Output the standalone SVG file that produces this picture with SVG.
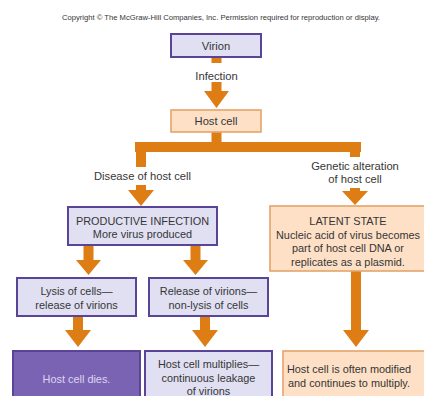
<svg xmlns="http://www.w3.org/2000/svg" width="424" height="396" viewBox="0 0 424 396">
<style>
text{font-family:"Liberation Sans",Arial,sans-serif;fill:#363636;text-anchor:middle}
.t{font-size:11.2px}
.s{font-size:10.9px}
.pb{fill:#e0e0f2;stroke:#5a4496;stroke-width:2}
.ob{fill:#fde0c6;stroke:#e5a469;stroke-width:1.6}
.dk{fill:#7b63b3;stroke:#5a4496;stroke-width:2}
.ar{fill:#de7d14}
</style>
<rect width="424" height="396" fill="#ffffff"/>
<text x="221" y="19.5" font-size="6.8" textLength="318" lengthAdjust="spacingAndGlyphs" fill="#333">Copyright © The McGraw-Hill Companies, Inc. Permission required for reproduction or display.</text>
<g id="connectors" class="ar">
<rect x="211.5" y="57" width="10" height="6"/>
<polygon points="211.5,82 221.5,82 221.5,91 229,91 216.5,108 204,91 211.5,91"/>
<rect x="211.5" y="132" width="10" height="12"/>
<rect x="135" y="142" width="226" height="10"/>
<rect x="136" y="142" width="10" height="25"/>
<rect x="350" y="142" width="10" height="15"/>
<polygon points="136,185 146,185 146,190 154,190 141,206 128,190 136,190"/>
<polygon points="350,188 360,188 360,191 368,191 355,205 342,191 350,191"/>
<polygon points="83.5,245 93.5,245 93.5,260 101,260 88.5,275 76,260 83.5,260"/>
<polygon points="190.5,245 200.5,245 200.5,260 208,260 195.5,275 183,260 190.5,260"/>
<polygon points="73,316 83,316 83,330 91,330 78,347 65,330 73,330"/>
<polygon points="200,316 210,316 210,330 218,330 205,347 192,330 200,330"/>
<polygon points="351,271 361,271 361,330 369,330 356,347 343,330 351,330"/>
</g>
<g id="labels">
<text class="t" x="216.5" y="80">Infection</text>
<text class="t" x="142.5" y="180">Disease of host cell</text>
<text class="t" x="355" y="170">Genetic alteration</text>
<text class="t" x="355" y="183">of host cell</text>
</g>
<g id="virion"><rect class="pb" x="171" y="34" width="90" height="23"/><text class="t" x="216" y="49.5">Virion</text></g>
<g id="host-cell"><rect class="ob" x="171" y="110" width="90" height="22"/><text class="t" x="216" y="124.5">Host cell</text></g>
<g id="productive"><rect class="pb" x="68" y="207" width="149" height="38"/><text class="s" x="142.5" y="224.5">PRODUCTIVE INFECTION</text><text class="s" x="142.5" y="238">More virus produced</text></g>
<g id="latent"><rect class="ob" x="270" y="206" width="160" height="65"/><text class="s" x="348" y="225">LATENT STATE</text><text class="s" x="348" y="238.5">Nucleic acid of virus becomes</text><text class="s" x="348" y="252">part of host cell DNA or</text><text class="s" x="348" y="265.5">replicates as a plasmid.</text></g>
<g id="lysis"><rect class="pb" x="17" y="278" width="119" height="38"/><text class="s" x="76.5" y="294.5">Lysis of cells—</text><text class="s" x="76.5" y="308.5">release of virions</text></g>
<g id="release"><rect class="pb" x="149" y="278" width="119" height="38"/><text class="s" x="208.5" y="294.5">Release of virions—</text><text class="s" x="208.5" y="308.5">non-lysis of cells</text></g>
<g id="dies"><rect class="dk" x="13" y="351" width="127" height="50"/><text class="s" x="76.5" y="383" style="fill:#ddd6f2">Host cell dies.</text></g>
<g id="multiplies"><rect class="pb" x="145" y="351" width="127" height="50"/><text class="s" x="208.5" y="368">Host cell multiplies—</text><text class="s" x="208.5" y="381.5">continuous leakage</text><text class="s" x="208.5" y="394.5">of virions</text></g>
<g id="modified"><rect class="ob" x="283" y="351" width="147" height="50"/><text class="s" x="349" y="373">Host cell is often modified</text><text class="s" x="349" y="386.5">and continues to multiply.</text></g>
</svg>
